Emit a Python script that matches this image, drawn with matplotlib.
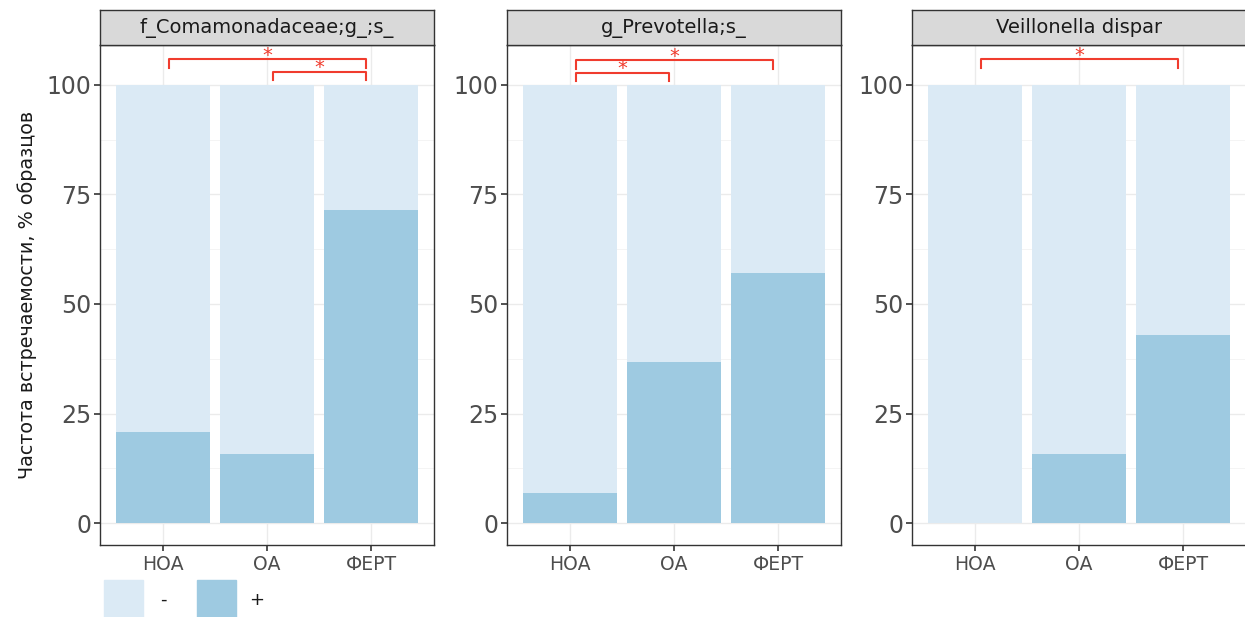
import numpy as np
import matplotlib.pyplot as plt
from matplotlib.patches import Rectangle

plt.rcParams['font.family'] = ['DejaVu Sans']

# data: % of samples where the taxon was found (+), rest is (-)
groups = ['НОА', 'ОА', 'ФЕРТ']
taxa = ['f_Comamonadaceae;g_;s_', 'g_Prevotella;s_', 'Veillonella dispar']
pos_comamonadaceae = [20.7, 15.8, 71.4]
pos_prevotella = [6.9, 36.8, 57.1]
pos_veillonella = [0.0, 15.8, 42.9]
positives = [pos_comamonadaceae, pos_prevotella, pos_veillonella]

# significance brackets: (group from, group to, level)
sig_comamonadaceae = [(1, 3, 105.9), (2, 3, 103.0)]
sig_prevotella = [(1, 3, 105.7), (1, 2, 102.8)]
sig_veillonella = [(1, 3, 105.8)]
brackets = [sig_comamonadaceae, sig_prevotella, sig_veillonella]

c_neg = '#dbeaf5'
c_pos = '#9ecae1'
red = '#f03c2e'
edge = '#333333'

fig = plt.figure(figsize=(12.45, 6.17), dpi=100)
lefts = [100 / 1245, 507 / 1245, 912 / 1245]
w = 334 / 1245
bottom = 1 - 545 / 617
h = 500 / 617
strip_h = 35 / 617

x = np.arange(1, 4)
for i, (left, name, pos, brs) in enumerate(zip(lefts, taxa, positives, brackets)):
    ax = fig.add_axes([left, bottom, w, h])
    pos = np.array(pos)
    neg = 100 - pos
    ax.bar(x, pos, width=0.9, color=c_pos, zorder=2)
    ax.bar(x, neg, width=0.9, bottom=pos, color=c_neg, zorder=2)

    ax.set_xlim(0.4, 3.6)
    ax.set_ylim(-5, 109.1)
    ax.set_xticks(x)
    ax.set_xticklabels(groups, fontsize=13.5, color='#4d4d4d')
    ax.set_yticks([0, 25, 50, 75, 100])
    ax.set_yticks([12.5, 37.5, 62.5, 87.5], minor=True)
    ax.tick_params(axis='y', which='major', labelsize=17, labelcolor='#4d4d4d',
                   length=4, width=1.2, color=edge, pad=2)
    ax.tick_params(axis='x', which='major', length=4, width=1.2, color=edge, pad=3)
    ax.tick_params(which='minor', length=0)
    ax.grid(True, which='major', color='#ebebeb', lw=1.0, zorder=0)
    ax.grid(True, which='minor', axis='y', color='#f2f2f2', lw=0.6, zorder=0)
    ax.set_axisbelow(True)
    for s in ax.spines.values():
        s.set_color(edge)
        s.set_linewidth(1.0)

    for g1, g2, yl in brs:
        xa, xb = g1 + 0.06, g2 - 0.05
        ax.plot([xa, xa, xb, xb], [yl - 2.0, yl, yl, yl - 2.0], color=red, lw=1.5,
                zorder=4, clip_on=False)
        ax.text((xa + xb) / 2, yl - 1.3, '*', color=red, fontsize=14,
                ha='center', va='bottom', zorder=4)

    # facet strip
    sax = fig.add_axes([left, bottom + h, w, strip_h])
    sax.set_facecolor('#d9d9d9')
    sax.set_xticks([])
    sax.set_yticks([])
    for s in sax.spines.values():
        s.set_color(edge)
        s.set_linewidth(1.0)
    sax.text(0.5, 0.5, name, ha='center', va='center', fontsize=14,
             color='#1a1a1a', transform=sax.transAxes)

    if i == 0:
        ax.set_ylabel('Частота встречаемости, % образцов', fontsize=13.8,
                      color='#1a1a1a', labelpad=7)

# legend at the bottom
fig.patches.append(Rectangle((104 / 1245, 0), 39 / 1245, 37 / 617,
                             transform=fig.transFigure, color=c_neg))
fig.patches.append(Rectangle((197 / 1245, 0), 39 / 1245, 37 / 617,
                             transform=fig.transFigure, color=c_pos))
fig.text(163 / 1245, 1 - 600 / 617, '-', fontsize=13, ha='center', va='center',
         color='#1a1a1a')
fig.text(257 / 1245, 1 - 600 / 617, '+', fontsize=13, ha='center', va='center',
         color='#1a1a1a')

fig.savefig('out.png', dpi=100)
